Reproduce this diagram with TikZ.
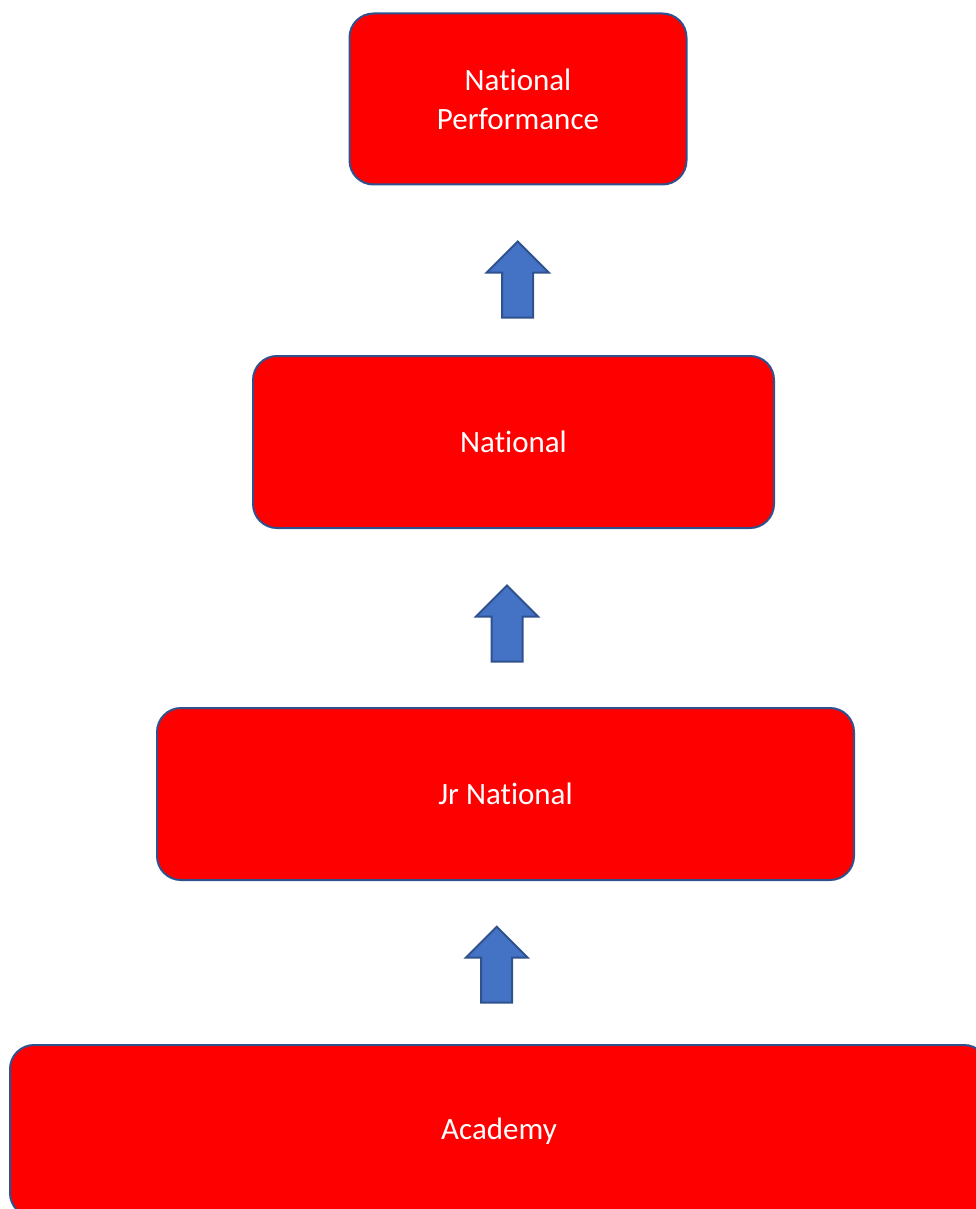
\documentclass[tikz,border=0pt]{standalone}
\usepackage{fontspec}
\setmainfont[Ligatures=NoCommon]{Carlito}
\definecolor{boxred}{HTML}{FF0000}
\definecolor{edgeblue}{HTML}{2F528F}
\definecolor{arrowblue}{HTML}{4472C4}
\tikzset{
  levelbox/.style={rectangle, rounded corners=24pt, fill=boxred, draw=edgeblue,
    line width=2pt, inner sep=0pt, text=white, align=center,
    font=\fontsize{31}{39}\selectfont},
  uparrow/.pic={
    \path[fill=arrowblue, draw=edgeblue, line width=2pt, line join=miter]
      (0,-38) -- (31,-7) -- (15.5,-7) -- (15.5,38) -- (-15.5,38) -- (-15.5,-7) -- (-31,-7) -- cycle;
  }
}
\begin{document}
\begin{tikzpicture}[x=1pt,y=-1pt]
\useasboundingbox (0,0) rectangle (976,1209);
\begin{scope}
\clip (0,0) rectangle (976,1209);
\node[levelbox, minimum width=337pt, minimum height=171pt] (np) at (518,99) {National\\Performance};
\node[levelbox, minimum width=521pt, minimum height=172pt] (nat) at (513.5,442) {National};
\node[levelbox, minimum width=697pt, minimum height=172pt] (jr) at (505.5,794) {Jr National};
\node[levelbox, minimum width=978pt, minimum height=172pt] (ac) at (499,1131) {Academy};
\pic (a1) at (517.7,279.5) {uparrow};
\pic (a2) at (507,623.5) {uparrow};
\pic (a3) at (496.7,964.7) {uparrow};
\end{scope}
\end{tikzpicture}
\end{document}
